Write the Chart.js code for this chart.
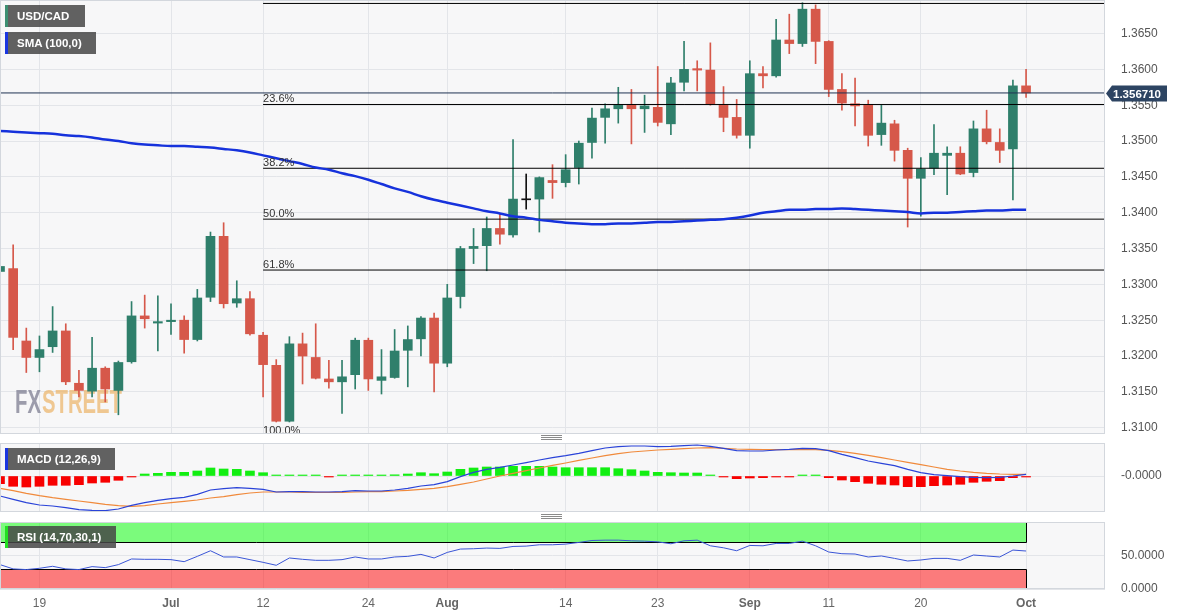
<!DOCTYPE html>
<html>
<head>
<meta charset="utf-8">
<title>USD/CAD daily</title>
<script src="https://cdn.jsdelivr.net/npm/chart.js@4.4.1/dist/chart.umd.min.js"></script>
<style>
  body { margin: 0; background: #fff; }
  #wrap { position: relative; width: 1182px; height: 616px; overflow: hidden; }
  canvas { position: absolute; left: 0; }
  .tag { position: absolute; left: 5px; height: 22px; background: rgba(70,70,70,0.85); color: #fff;
         font: bold 11.5px "Liberation Sans", Arial, sans-serif; line-height: 22px; padding-left: 9px; box-sizing: border-box;
         border-left: 3px solid; white-space: nowrap; }
  .grip { position: absolute; left: 541px; width: 21px; height: 3px; border-top: 1px solid #8a8a8a; border-bottom: 1px solid #8a8a8a; }
  .grip:after { content: ""; position: absolute; left: 0; right: 0; top: 1px; border-top: 1px solid #8a8a8a; }
</style>
</head>
<body>
<div id="wrap">
  <canvas id="main" width="1182" height="434" style="top:0"></canvas>
  <canvas id="macd" width="1182" height="69" style="top:443px"></canvas>
  <canvas id="rsi" width="1182" height="94" style="top:522px"></canvas>
  <div class="tag" style="top:5px;width:80px;border-color:#3d8f72">USD/CAD</div>
  <div class="tag" style="top:32px;width:91px;border-color:#1a36e0">SMA (100,0)</div>
  <div class="tag" style="top:448px;width:110px;border-color:#1a36e0">MACD (12,26,9)</div>
  <div class="tag" style="top:526px;width:111px;border-color:#22e022">RSI (14,70,30,1)</div>
  <div class="grip" style="top:435px"></div>
  <div class="grip" style="top:514px"></div>
</div>
<script>
// trading days shown (last six are empty room on the right)
const dates = [
  'Jun 14','Jun 15','Jun 16','Jun 19','Jun 20','Jun 21','Jun 22','Jun 23','Jun 26','Jun 27','Jun 28','Jun 29','Jun 30',
  'Jul 3','Jul 4','Jul 5','Jul 6','Jul 7','Jul 10','Jul 11','Jul 12','Jul 13','Jul 14','Jul 17','Jul 18','Jul 19','Jul 20','Jul 21',
  'Jul 24','Jul 25','Jul 26','Jul 27','Jul 28','Jul 31',
  'Aug 1','Aug 2','Aug 3','Aug 4','Aug 7','Aug 8','Aug 9','Aug 10','Aug 11','Aug 14','Aug 15','Aug 16','Aug 17','Aug 18',
  'Aug 21','Aug 22','Aug 23','Aug 24','Aug 25','Aug 28','Aug 29','Aug 30','Aug 31',
  'Sep 1','Sep 4','Sep 5','Sep 6','Sep 7','Sep 8','Sep 11','Sep 12','Sep 13','Sep 14','Sep 15','Sep 18','Sep 19','Sep 20',
  'Sep 21','Sep 22','Sep 25','Sep 26','Sep 27','Sep 28','Sep 29',
  'Oct 2','Oct 3','Oct 4','Oct 5','Oct 6','Oct 9','Oct 10'
];
const tickDates = ['Jun 19','Jul 3','Jul 12','Jul 24','Aug 1','Aug 14','Aug 23','Sep 1','Sep 11','Sep 20','Oct 2'];
const tickText = ['19','Jul','12','24','Aug','14','23','Sep','11','20','Oct'];
const monthText = ['Jul','Aug','Sep','Oct'];
const priceTicks = [1.3100,1.3150,1.3200,1.3250,1.3300,1.3350,1.3400,1.3450,1.3500,1.3550,1.3600,1.3650];

const openP = [
  1.3318,1.3322,1.3221,1.3198,1.3213,1.3235,1.3162,1.3151,1.3183,1.3152,1.3192,1.3256,1.3246,
  1.3248,1.3250,1.3223,1.3282,1.3367,1.3274,1.3280,1.3229,1.3187,1.3109,1.3217,1.3198,1.3168,1.3164,1.3174,
  1.3222,1.3166,1.3170,1.3208,1.3224,1.3253,
  1.3190,1.3283,1.3350,1.3354,1.3378,1.3369,1.3418,1.3419,1.3445,1.3442,1.3463,1.3498,1.3533,1.3545,
  1.3551,1.3545,1.3547,1.3524,1.3582,1.3601,1.3599,1.3551,1.3533,
  1.3508,1.3594,1.3591,1.3641,1.3636,1.3684,1.3639,1.3572,1.3552,1.3551,1.3509,1.3524,1.3487,1.3448,
  1.3462,1.3480,1.3483,1.3456,1.3517,1.3498,1.3489,
  1.3577
];
const highP = [
  1.3353,1.3355,1.3239,1.3228,1.3269,1.3245,1.3180,1.3226,1.3185,1.3193,1.3276,1.3285,1.3284,
  1.3273,1.3256,1.3293,1.3373,1.3386,1.3305,1.3290,1.3233,1.3195,1.3227,1.3232,1.3245,1.3194,1.3194,1.3225,
  1.3225,1.3209,1.3237,1.3242,1.3255,1.3260,
  1.3300,1.3353,1.3378,1.3394,1.3398,1.3502,1.3454,1.3450,1.3467,1.3481,1.3500,1.3546,1.3552,1.3575,
  1.3572,1.3564,1.3604,1.3589,1.3639,1.3612,1.3637,1.3576,1.3558,
  1.3612,1.3604,1.3670,1.3677,1.3693,1.3690,1.3640,1.3594,1.3588,1.3557,1.3550,1.3529,1.3490,1.3477,
  1.3523,1.3492,1.3492,1.3528,1.3543,1.3517,1.3585,
  1.3600
];
const lowP = [
  1.3274,1.3209,1.3177,1.3178,1.3205,1.3160,1.3143,1.3143,1.3136,1.3118,1.3190,1.3239,1.3207,
  1.3230,1.3204,1.3221,1.3276,1.3267,1.3268,1.3229,1.3143,1.3108,1.3108,1.3161,1.3168,1.3155,1.3120,1.3154,
  1.3152,1.3147,1.3169,1.3157,1.3200,1.3150,
  1.3185,1.3267,1.3329,1.3319,1.3356,1.3366,1.3405,1.3373,1.3420,1.3436,1.3440,1.3476,1.3497,1.3525,
  1.3496,1.3512,1.3521,1.3509,1.3570,1.3570,1.3550,1.3513,1.3504,
  1.3490,1.3574,1.3589,1.3622,1.3632,1.3608,1.3562,1.3543,1.3521,1.3493,1.3494,1.3472,1.3380,1.3395,
  1.3453,1.3425,1.3453,1.3450,1.3496,1.3470,1.3418,
  1.3561
];
const closeP = [
  1.3325,1.3226,1.3198,1.3209,1.3235,1.3164,1.3152,1.3183,1.3154,1.3191,1.3256,1.3252,1.3248,
  1.3250,1.3223,1.3281,1.3367,1.3273,1.3280,1.3231,1.3188,1.3109,1.3217,1.3200,1.3169,1.3164,1.3171,1.3222,
  1.3168,1.3171,1.3207,1.3223,1.3253,1.3190,
  1.3281,1.3350,1.3353,1.3378,1.3370,1.3419,1.3418,1.3449,1.3442,1.3460,1.3497,1.3532,1.3545,1.3551,
  1.3545,1.3549,1.3526,1.3581,1.3600,1.3599,1.3552,1.3533,1.3508,
  1.3594,1.3591,1.3641,1.3636,1.3684,1.3639,1.3572,1.3553,1.3549,1.3508,1.3525,1.3487,1.3448,1.3461,
  1.3483,1.3483,1.3454,1.3517,1.3499,1.3487,1.3577,
  1.35671
];
const sma100 = [
  1.3514,1.3513,1.3512,1.3511,1.3510,1.3508,1.3507,1.3505,1.3502,1.3500,
  1.3497,1.3495,1.3494,1.3493,1.3493,1.3492,1.3491,1.3489,1.3487,1.3484,
  1.3480,1.3476,1.3472,1.3468,1.3463,1.3460,1.3455,1.3451,1.3446,1.3440,
  1.3434,1.3429,1.3423,1.3418,1.3414,1.3410,1.3406,1.3402,1.3399,1.3395,
  1.3393,1.3390,1.3388,1.3386,1.3385,1.3384,1.3384,1.3385,1.3385,1.3386,
  1.3387,1.3387,1.3388,1.3389,1.3390,1.3391,1.3393,1.3396,1.3400,1.3402,
  1.3404,1.3404,1.3405,1.3405,1.3406,1.3405,1.3404,1.3403,1.3402,1.3401,
  1.3399,1.3400,1.3400,1.3401,1.3402,1.3403,1.3403,1.3404,1.3404
];
const fibLevels = [1.3692, 1.3551, 1.3462, 1.3391, 1.3320, 1.3089];
const fibText = ['0.0%', '23.6%', '38.2%', '50.0%', '61.8%', '100.0%'];
const fibFrom = 'Jul 12';

const macdLine = [
  -0.00400,-0.00467,-0.00533,-0.00580,-0.00600,-0.00633,-0.00673,-0.00687,-0.00693,-0.00660,
  -0.00587,-0.00533,-0.00487,-0.00453,-0.00427,-0.00367,-0.00280,-0.00253,-0.00233,-0.00247,
  -0.00267,-0.00320,-0.00313,-0.00313,-0.00320,-0.00320,-0.00313,-0.00293,-0.00300,-0.00300,
  -0.00280,-0.00247,-0.00200,-0.00173,-0.00113,-0.00013,0.00073,0.00133,0.00173,0.00220,
  0.00267,0.00320,0.00367,0.00407,0.00453,0.00507,0.00560,0.00587,0.00600,0.00600,
  0.00587,0.00593,0.00607,0.00620,0.00593,0.00553,0.00507,0.00500,0.00500,0.00520,
  0.00533,0.00553,0.00547,0.00507,0.00433,0.00367,0.00300,0.00253,0.00207,0.00133,
  0.00067,0.00027,0.00007,-0.00013,-0.00027,-0.00033,-0.00027,0.00000,0.00033
];
const signalLine = [
  -0.00247,-0.00293,-0.00347,-0.00393,-0.00433,-0.00467,-0.00500,-0.00533,-0.00567,-0.00593,
  -0.00607,-0.00593,-0.00560,-0.00533,-0.00507,-0.00480,-0.00440,-0.00413,-0.00373,-0.00340,
  -0.00320,-0.00320,-0.00320,-0.00327,-0.00327,-0.00327,-0.00327,-0.00320,-0.00313,-0.00313,
  -0.00300,-0.00287,-0.00267,-0.00247,-0.00213,-0.00167,-0.00120,-0.00060,0.00000,0.00053,
  0.00107,0.00160,0.00213,0.00260,0.00313,0.00360,0.00407,0.00447,0.00480,0.00500,
  0.00520,0.00533,0.00547,0.00560,0.00567,0.00553,0.00540,0.00533,0.00527,0.00527,
  0.00527,0.00533,0.00527,0.00513,0.00487,0.00453,0.00413,0.00367,0.00320,0.00273,
  0.00227,0.00180,0.00133,0.00100,0.00073,0.00053,0.00040,0.00033,0.00033
];
const macdHist = [
  -0.00154,-0.00206,-0.00220,-0.00206,-0.00186,-0.00186,-0.00174,-0.00140,-0.00126,-0.00086,
  -0.00010,0.00040,0.00054,0.00074,0.00074,0.00100,0.00160,0.00140,0.00134,0.00100,
  0.00066,0.00002,0.00016,0.00012,0.00004,-0.00004,0.00006,0.00018,0.00016,0.00020,
  0.00024,0.00040,0.00066,0.00046,0.00080,0.00134,0.00160,0.00180,0.00180,0.00194,
  0.00194,0.00194,0.00180,0.00166,0.00166,0.00166,0.00166,0.00146,0.00126,0.00100,
  0.00074,0.00066,0.00060,0.00060,0.00020,-0.00010,-0.00054,-0.00040,-0.00034,-0.00010,
  -0.00004,0.00020,0.00006,-0.00034,-0.00080,-0.00114,-0.00146,-0.00166,-0.00180,-0.00214,
  -0.00214,-0.00194,-0.00180,-0.00166,-0.00126,-0.00106,-0.00094,-0.00034,-0.00006
];
const rsi14 = [
  36.4,30.0,29.0,30.9,33.9,30.0,29.0,33.4,31.9,36.4,
  44.8,44.3,44.3,43.8,40.8,48.7,57.1,47.8,47.8,43.8,
  39.8,35.4,46.3,44.3,42.8,42.8,43.8,47.8,44.8,44.8,
  47.8,48.7,51.7,46.3,54.6,59.6,60.1,61.1,60.6,63.5,
  64.0,66.0,66.0,67.0,69.5,72.4,72.9,72.9,71.9,71.4,
  70.4,67.5,71.9,72.9,64.5,61.5,57.1,65.0,64.5,68.0,
  68.0,71.4,64.5,55.2,52.7,52.2,47.8,49.3,45.7,41.8,
  43.3,45.7,45.7,42.8,50.7,49.3,47.8,58.1,56.7
];
const rsiUpper = 70;
const rsiLower = 30;

Chart.defaults.font.family = '"Liberation Sans", Arial, sans-serif';

const up = '#2f7f6b', down = '#d6584a', flat = '#111';
const candleColor = closeP.map((c, i) => c > openP[i] ? up : (c < openP[i] ? down : flat));
const histColor = macdHist.map(v => v >= 0 ? '#12ee12' : '#f80000');
const lastDate = dates[dates.length - 1];
const lastClose = closeP[closeP.length - 1];
const gridCol = '#e3e5e9';

function xAxis(showLabels) {
  return {
    type: 'category',
    offset: false,
    border: { display: false },
    grid: {
      offset: false,
      drawTicks: false,
      color: c => tickDates.includes(dates[c.index]) ? gridCol : 'rgba(0,0,0,0)'
    },
    ticks: {
      display: showLabels,
      autoSkip: false,
      maxRotation: 0,
      padding: 7,
      color: '#666',
      font: c => ({ size: 12, weight: monthText.includes(tickText[tickDates.indexOf(dates[c.index])]) ? 'bold' : 'normal' }),
      callback: (v, i) => {
        const k = tickDates.indexOf(dates[i]);
        return k >= 0 ? tickText[k] : '';
      }
    },
    afterFit: s => { s.height = showLabels ? 27 : 0; s.paddingLeft = 0; s.paddingRight = 0; }
  };
}

function yAxis(min, max, ticks, fmt) {
  return {
    position: 'right',
    min: min,
    max: max,
    border: { display: false },
    grid: { color: gridCol, drawTicks: false },
    ticks: { padding: 16, color: '#555', font: { size: 12 }, callback: fmt },
    afterBuildTicks: s => { s.ticks = ticks.map(v => ({ value: v })); },
    afterFit: s => { s.width = 77; s.paddingTop = 0; s.paddingBottom = 0; }
  };
}

const baseOptions = {
  responsive: false,
  animation: false,
  devicePixelRatio: 1,
  layout: { padding: 0, autoPadding: false },
  plugins: { legend: { display: false }, tooltip: { enabled: false } }
};

// light panel background and frame
const panel = {
  id: 'panel',
  beforeDraw(chart) {
    const { ctx, chartArea: a } = chart;
    ctx.save();
    ctx.fillStyle = '#f7f7f8';
    ctx.fillRect(a.left, a.top, a.right - a.left, a.bottom - a.top);
    ctx.restore();
  },
  afterDraw(chart) {
    const { ctx, chartArea: a } = chart;
    ctx.save();
    ctx.strokeStyle = '#d3d7dd';
    ctx.lineWidth = 1;
    ctx.strokeRect(a.left + 0.5, a.top + 0.5, a.right - a.left - 1, a.bottom - a.top - 1);
    ctx.restore();
  }
};

const watermark = {
  id: 'watermark',
  beforeDatasetsDraw(chart) {
    const ctx = chart.ctx;
    ctx.save();
    ctx.font = 'bold 34px "Liberation Sans", Arial, sans-serif';
    ctx.fillStyle = 'rgba(125,125,145,0.75)';
    ctx.fillText('FX', 15, 413, 26);
    ctx.fillStyle = 'rgba(235,180,105,0.72)';
    ctx.fillText('STREET', 42, 413, 80);
    ctx.restore();
  }
};

const fibLabels = {
  id: 'fibLabels',
  afterDatasetsDraw(chart) {
    const { ctx, scales: { x, y } } = chart;
    const px = x.getPixelForValue(dates.indexOf(fibFrom));
    ctx.save();
    ctx.font = '11px "Liberation Sans", Arial, sans-serif';
    ctx.fillStyle = '#333';
    ctx.textAlign = 'left';
    ctx.textBaseline = 'alphabetic';
    fibLevels.forEach((l, i) => ctx.fillText(fibText[i], px, y.getPixelForValue(l) - 2));
    ctx.restore();
  }
};

const priceTag = {
  id: 'priceTag',
  afterDraw(chart) {
    const { ctx, chartArea: a, scales: { y } } = chart;
    const py = Math.round(y.getPixelForValue(lastClose)) + 0.5;
    const x = a.right;
    ctx.save();
    ctx.fillStyle = '#2d4462';
    ctx.beginPath();
    ctx.moveTo(x + 1, py);
    ctx.lineTo(x + 7, py - 8);
    ctx.lineTo(x + 62, py - 8);
    ctx.lineTo(x + 62, py + 8);
    ctx.lineTo(x + 7, py + 8);
    ctx.closePath();
    ctx.fill();
    ctx.fillStyle = '#fff';
    ctx.font = 'bold 11.5px "Liberation Sans", Arial, sans-serif';
    ctx.textBaseline = 'middle';
    ctx.fillText(lastClose.toFixed(6), x + 8, py + 1);
    ctx.restore();
  }
};

const rsiZones = {
  id: 'rsiZones',
  beforeDatasetsDraw(chart) {
    const { ctx, scales: { x, y } } = chart;
    const x0 = x.getPixelForValue(0);
    const x1 = Math.round(x.getPixelForValue(closeP.length - 1)) + 0.5;
    const yTop = y.getPixelForValue(100) + 1;
    const yHi = Math.round(y.getPixelForValue(rsiUpper)) + 0.5;
    const yLo = Math.round(y.getPixelForValue(rsiLower)) + 0.5;
    const yBot = y.getPixelForValue(0);
    ctx.save();
    ctx.fillStyle = 'rgba(0,255,0,0.5)';
    ctx.fillRect(x0, yTop, x1 - x0, yHi - yTop);
    ctx.fillStyle = 'rgba(255,0,0,0.5)';
    ctx.fillRect(x0, yLo, x1 - x0, yBot - yLo);
    ctx.strokeStyle = '#000';
    ctx.lineWidth = 1;
    ctx.beginPath();
    ctx.moveTo(x0, yHi); ctx.lineTo(x1, yHi); ctx.lineTo(x1, yTop);
    ctx.moveTo(x0, yLo); ctx.lineTo(x1, yLo); ctx.lineTo(x1, yBot);
    ctx.moveTo(x0 + 0.5, yTop); ctx.lineTo(x0 + 0.5, yHi);
    ctx.moveTo(x0 + 0.5, yLo); ctx.lineTo(x0 + 0.5, yBot);
    ctx.stroke();
    ctx.restore();
  }
};

// price panel
new Chart(document.getElementById('main'), {
  type: 'bar',
  data: {
    labels: dates,
    datasets: [
      { type: 'line', data: sma100, borderColor: '#1632dc', borderWidth: 2.5, pointRadius: 0, cubicInterpolationMode: 'monotone' },
      { type: 'line', data: [{ x: dates[0], y: lastClose }, { x: lastDate, y: lastClose }], borderColor: '#1f3352', borderWidth: 1, pointRadius: 0 },
      ...fibLevels.map(l => ({
        type: 'line', data: [{ x: fibFrom, y: l }, { x: lastDate, y: l }], borderColor: '#000', borderWidth: 1, pointRadius: 0
      })),
      { data: openP.map((o, i) => [o, closeP[i]]), backgroundColor: candleColor, barThickness: 9, grouped: false, minBarLength: 1 },
      { data: lowP.map((l, i) => [l, highP[i]]), backgroundColor: candleColor, barThickness: 1, grouped: false }
    ]
  },
  options: {
    ...baseOptions,
    scales: {
      x: xAxis(false),
      y: yAxis(1.30912, 1.36968, priceTicks, v => v.toFixed(4))
    }
  },
  plugins: [panel, watermark, fibLabels, priceTag]
});

// MACD panel
new Chart(document.getElementById('macd'), {
  type: 'bar',
  data: {
    labels: dates,
    datasets: [
      { type: 'line', data: macdLine, borderColor: '#2a43d8', borderWidth: 1.2, pointRadius: 0 },
      { type: 'line', data: signalLine, borderColor: '#f08a3c', borderWidth: 1.2, pointRadius: 0 },
      { data: macdHist, backgroundColor: histColor, barThickness: 9, minBarLength: 1 }
    ]
  },
  options: {
    ...baseOptions,
    scales: {
      x: xAxis(false),
      y: yAxis(-0.0072, 0.0066, [0], () => '-0.0000')
    }
  },
  plugins: [panel]
});

// RSI panel
new Chart(document.getElementById('rsi'), {
  type: 'line',
  data: {
    labels: dates,
    datasets: [
      { data: rsi14, borderColor: '#3a55d6', borderWidth: 1, pointRadius: 0 }
    ]
  },
  options: {
    ...baseOptions,
    scales: {
      x: xAxis(true),
      y: yAxis(0, 100, [0, 50], v => v.toFixed(4))
    }
  },
  plugins: [panel, rsiZones]
});
</script>
</body>
</html>
